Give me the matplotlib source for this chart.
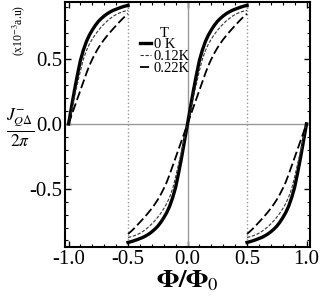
import numpy as np
import matplotlib
matplotlib.use('Agg')
import matplotlib.pyplot as plt
from matplotlib.ticker import MultipleLocator

plt.rcParams['font.family'] = ['Liberation Serif', 'DejaVu Serif']
plt.rcParams['mathtext.fontset'] = 'stix'

# one branch of the current, offset from the jump
dx = [0, 0.025, 0.05, 0.075, 0.1, 0.125, 0.15, 0.175, 0.2, 0.225, 0.25,
      0.275, 0.3, 0.325, 0.35, 0.375, 0.4, 0.425, 0.45, 0.475, 0.5]
j_0K = [0, 0.13, 0.26, 0.38, 0.49, 0.57, 0.635, 0.685, 0.725, 0.76, 0.79,
        0.813, 0.833, 0.85, 0.864, 0.876, 0.885, 0.894, 0.902, 0.909, 0.915]
j_012K = [0, 0.10, 0.21, 0.31, 0.41, 0.50, 0.565, 0.615, 0.655, 0.69, 0.72,
          0.748, 0.772, 0.794, 0.813, 0.83, 0.844, 0.855, 0.864, 0.871, 0.877]
j_022K = [0, 0.065, 0.13, 0.195, 0.26, 0.325, 0.39, 0.45, 0.50, 0.545, 0.585,
          0.62, 0.652, 0.681, 0.708, 0.734, 0.759, 0.784, 0.808, 0.83, 0.85]
labels = ['0 K', '0.12K', '0.22K']


def full_curve(g):
    d = np.array(dx)
    g = np.array(g)
    # -1..-0.5, -0.5..0.5, 0.5..1
    x1, y1 = d - 1, g
    x2 = np.concatenate([-d[::-1], d[1:]])
    y2 = np.concatenate([-g[::-1], g[1:]])
    x3, y3 = 1 - d[::-1], -g[::-1]
    return (x1, y1), (x2, y2), (x3, y3)


fig = plt.figure(figsize=(3.2, 2.99), dpi=100)
ax = fig.add_axes([0.203, 0.174, 0.766, 0.819])

ax.axhline(0, color='#999999', lw=1)
ax.axvline(0, color='#999999', lw=1)
ax.axvline(-0.5, color='#999999', lw=1, ls=':')
ax.axvline(0.5, color='#999999', lw=1, ls=':')

styles = [dict(color='black', lw=2.4, ls='-'),
          dict(color='#333333', lw=0.8, ls=(0, (3, 1.5))),
          dict(color='black', lw=1.3, ls=(0, (5, 2)))]

for g, lab, st in zip([j_0K, j_012K, j_022K], labels, styles):
    segs = full_curve(g)
    for i, (xs, ys) in enumerate(segs):
        ax.plot(xs, ys, label=lab if i == 0 else None, **st)

ax.set_xlim(-1.03, 1.03)
ax.set_ylim(-0.95, 0.94)
ax.set_xticks([-1.0, -0.5, 0.0, 0.5, 1.0])
ax.set_yticks([-0.5, 0.0, 0.5])
ax.set_xticklabels(['-1.0', '-0.5', '0.0', '0.5', '1.0'])
ax.set_yticklabels(['-0.5', '0.0', '0.5'])
ax.xaxis.set_minor_locator(MultipleLocator(0.1))
ax.yaxis.set_minor_locator(MultipleLocator(0.1))
ax.tick_params(which='both', direction='in', top=True, right=True, labelsize=15)
ax.tick_params(which='major', length=4, width=1)
ax.tick_params(which='minor', length=2, width=0.8)
ax.tick_params(axis='x', pad=2)
ax.tick_params(axis='y', pad=2)
for s in ax.spines.values():
    s.set_linewidth(1.5)

leg = ax.legend(title='T', frameon=False, fontsize=10.5, title_fontsize=10.5,
                loc='upper left', bbox_to_anchor=(0.275, 0.93),
                handlelength=0.8, handletextpad=0.15, labelspacing=-0.1,
                borderpad=0)

ax.set_xlabel(r'$\mathbf{\Phi/\Phi}_{0}$', fontsize=19, labelpad=0)
fig.text(0.062, 0.57, r'$\frac{J^{-}_{Q\Delta}}{2\pi}$', fontsize=18,
         ha='center', va='center')
fig.text(0.058, 0.9, r'(x10$^{-3}$a.u)', fontsize=8.5, rotation=90,
         ha='center', va='center')

fig.savefig('out.png', dpi=100)
